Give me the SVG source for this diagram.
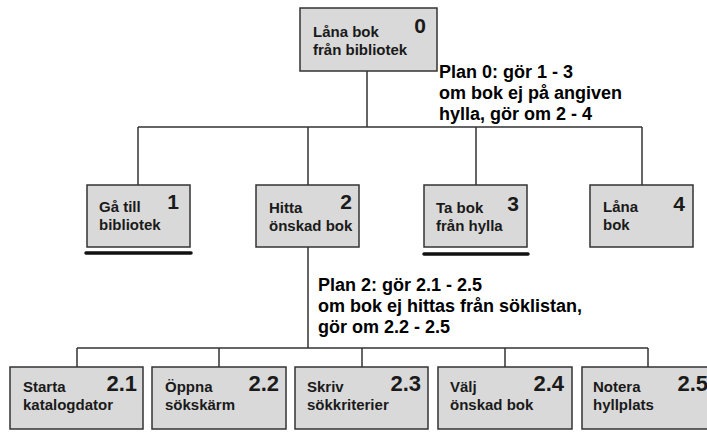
<svg xmlns="http://www.w3.org/2000/svg" width="707" height="432" viewBox="0 0 707 432">
  <style>
    .box { fill: #d9d9d9; stroke: #333; stroke-width: 1.5; }
    .lbl { font-family: "Liberation Sans", Arial, sans-serif; font-weight: bold; font-size: 15px; fill: #1a1a1a; }
    .num { font-family: "Liberation Sans", Arial, sans-serif; font-weight: bold; font-size: 21px; fill: #1a1a1a; text-anchor: end; }
    .num2 { font-size: 22px; }
    .plan { font-family: "Liberation Sans", Arial, sans-serif; font-weight: bold; font-size: 18px; fill: #000; }
    .conn { fill: none; stroke: #333; stroke-width: 1.5; }
    .bar { stroke: #111; stroke-width: 3.5; stroke-linecap: round; }
  </style>
  <rect width="707" height="432" fill="#fff"/>

  <!-- connectors -->
  <g id="connectors" class="conn">
    <path d="M367 71 V127 M138 127 H642 M138 127 V185 M308 127 V185 M476 127 V185 M642 127 V185"/>
    <path d="M308 247 V348 M77 348 H648 M77 348 V367 M219 348 V367 M362 348 V367 M505 348 V367 M648 348 V367"/>
  </g>

  <!-- plan annotations -->
  <g id="plan0" class="plan">
    <text x="439" y="78">Plan 0: gör 1 - 3</text>
    <text x="439" y="99">om bok ej på angiven</text>
    <text x="439" y="120">hylla, gör om 2 - 4</text>
  </g>
  <g id="plan2" class="plan">
    <text x="318" y="291">Plan 2: gör 2.1 - 2.5</text>
    <text x="318" y="312">om bok ej hittas från söklistan,</text>
    <text x="318" y="333">gör om 2.2 - 2.5</text>
  </g>

  <!-- task 0 -->
  <g id="node-0">
    <rect class="box" x="300" y="8" width="137" height="63"/>
    <text class="lbl" x="313" y="37">Låna bok</text>
    <text class="lbl" x="313" y="55">från bibliotek</text>
    <text class="num" x="426" y="33">0</text>
  </g>

  <!-- level 1 -->
  <g id="node-1">
    <rect class="box" x="87" y="185" width="103" height="62"/>
    <text class="lbl" x="99" y="212">Gå till</text>
    <text class="lbl" x="99" y="230">bibliotek</text>
    <text class="num" x="179" y="209">1</text>
    <line class="bar" x1="86" y1="253" x2="191" y2="253"/>
  </g>
  <g id="node-2">
    <rect class="box" x="256" y="185" width="103" height="62"/>
    <text class="lbl" x="269" y="213">Hitta</text>
    <text class="lbl" x="269" y="231">önskad bok</text>
    <text class="num" x="352" y="209">2</text>
  </g>
  <g id="node-3">
    <rect class="box" x="424" y="185" width="103" height="62"/>
    <text class="lbl" x="436" y="213">Ta bok</text>
    <text class="lbl" x="436" y="231">från hylla</text>
    <text class="num" x="519" y="211">3</text>
    <line class="bar" x1="424" y1="254" x2="528" y2="254"/>
  </g>
  <g id="node-4">
    <rect class="box" x="590" y="185" width="103" height="62"/>
    <text class="lbl" x="603" y="212">Låna</text>
    <text class="lbl" x="603" y="230">bok</text>
    <text class="num" x="685" y="211">4</text>
  </g>

  <!-- level 2 -->
  <g id="node-2-1">
    <rect class="box" x="10" y="367" width="133" height="62"/>
    <text class="lbl" x="23" y="392">Starta</text>
    <text class="lbl" x="23" y="410">katalogdator</text>
    <text class="num num2" x="137" y="391">2.1</text>
  </g>
  <g id="node-2-2">
    <rect class="box" x="152" y="367" width="134" height="62"/>
    <text class="lbl" x="165" y="392">Öppna</text>
    <text class="lbl" x="165" y="410">sökskärm</text>
    <text class="num num2" x="279" y="391">2.2</text>
  </g>
  <g id="node-2-3">
    <rect class="box" x="295" y="367" width="133" height="62"/>
    <text class="lbl" x="307" y="392">Skriv</text>
    <text class="lbl" x="307" y="410">sökkriterier</text>
    <text class="num num2" x="421" y="391">2.3</text>
  </g>
  <g id="node-2-4">
    <rect class="box" x="438" y="367" width="134" height="62"/>
    <text class="lbl" x="450" y="392">Välj</text>
    <text class="lbl" x="450" y="410">önskad bok</text>
    <text class="num num2" x="564" y="391">2.4</text>
  </g>
  <g id="node-2-5">
    <rect class="box" x="582" y="367" width="134" height="62"/>
    <text class="lbl" x="593" y="392">Notera</text>
    <text class="lbl" x="593" y="410">hyllplats</text>
    <text class="num num2" x="708" y="391">2.5</text>
  </g>
</svg>
